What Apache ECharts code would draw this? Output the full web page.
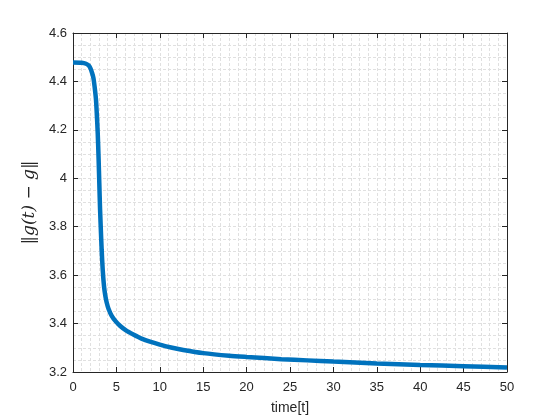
<!DOCTYPE html>
<html>
<head>
<meta charset="utf-8">
<script src="https://cdn.jsdelivr.net/npm/echarts@6/dist/echarts.min.js"></script>
<style>
  html, body { margin: 0; padding: 0; background: #fff; }
  #chart { width: 560px; height: 420px; }
</style>
</head>
<body>
<div id="chart"></div>
<script>
// time samples and the norm values
const timeValues = [0, 1.0, 1.5, 1.8, 2.0, 2.2, 2.35, 2.5, 2.65, 2.75, 2.85, 2.95, 3.03, 3.12, 3.22, 3.30, 3.42, 3.57, 3.72, 3.88, 4.1, 4.46, 4.9, 5.41, 6.1, 6.95, 7.9, 8.87, 10, 11.3, 12.7, 15, 18, 20, 24, 27, 30, 35, 40, 45, 50];
const normValues = [4.478, 4.477, 4.473, 4.466, 4.455, 4.435, 4.415, 4.375, 4.324, 4.26, 4.185, 4.08, 3.98, 3.87, 3.776, 3.706, 3.624, 3.555, 3.515, 3.487, 3.46, 3.432, 3.41, 3.391, 3.372, 3.355, 3.338, 3.325, 3.313, 3.301, 3.291, 3.278, 3.267, 3.262, 3.253, 3.248, 3.243, 3.235, 3.229, 3.224, 3.219];

const axisColor = "#262626";
const gridLine = { show: true, lineStyle: { color: "#e0e0e0", type: [3, 2], width: 1 } };

const chart = echarts.init(document.getElementById("chart"));

const boxAxis = {
  axisLine: { show: true, onZero: false, lineStyle: { color: axisColor, width: 1 } },
  axisTick: { show: true, inside: true, length: 5, lineStyle: { color: axisColor } },
  axisLabel: { show: false },
  splitLine: { show: false },
};

chart.setOption({
  animation: false,
  grid: { left: 73, right: 53, top: 33, bottom: 47 },
  xAxis: [
    {
      type: "value",
      min: 0,
      max: 50,
      interval: 5,
      name: "time[t]",
      nameLocation: "middle",
      nameGap: 29,
      nameTextStyle: { color: axisColor, fontSize: 14, fontFamily: "Liberation Sans, Arial" },
      axisLine: { show: true, onZero: false, lineStyle: { color: axisColor } },
      axisTick: { show: true, inside: true, length: 5, lineStyle: { color: axisColor } },
      axisLabel: { color: axisColor, fontSize: 13, fontFamily: "Liberation Sans, Arial", margin: 9 },
      splitLine: gridLine,
      minorTick: { show: false, splitNumber: 5 },
      minorSplitLine: gridLine,
    },
    Object.assign({ type: "value", position: "top", min: 0, max: 50, interval: 5 }, boxAxis),
  ],
  yAxis: [
    {
      type: "value",
      min: 3.2,
      max: 4.6,
      interval: 0.2,
      name: "‖g(t) − g‖",
      nameLocation: "middle",
      nameGap: 31,
      nameTextStyle: { color: axisColor, fontSize: 17, fontFamily: "DejaVu Serif, Liberation Serif", fontStyle: "italic" },
      axisLine: { show: true, onZero: false, lineStyle: { color: axisColor } },
      axisTick: { show: true, inside: true, length: 5, lineStyle: { color: axisColor } },
      axisLabel: {
        color: axisColor,
        fontSize: 13,
        fontFamily: "Liberation Sans, Arial",
        margin: 6,
        formatter: (v) => (Math.abs(v - 4) < 1e-9 ? "4" : v.toFixed(1)),
      },
      splitLine: gridLine,
      minorTick: { show: false, splitNumber: 4 },
      minorSplitLine: gridLine,
    },
    Object.assign({ type: "value", position: "right", min: 3.2, max: 4.6, interval: 0.2 }, boxAxis),
  ],
  series: [
    {
      type: "line",
      data: timeValues.map((t, i) => [t, normValues[i]]),
      showSymbol: false,
      smooth: 0.25,
      lineStyle: { color: "#0072BD", width: 4.5 },
    },
  ],
});
</script>
</body>
</html>
